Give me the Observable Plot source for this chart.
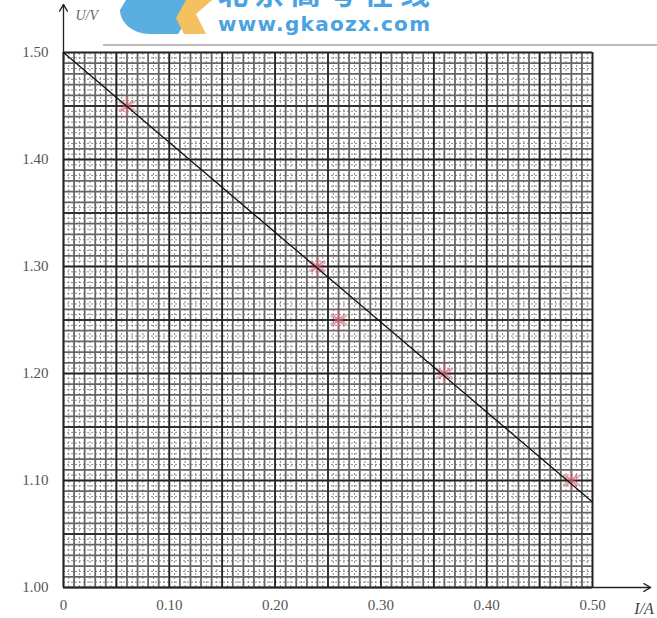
<!DOCTYPE html>
<html><head><meta charset="utf-8">
<script src="https://cdn.jsdelivr.net/npm/d3@7"></script>
<script src="https://cdn.jsdelivr.net/npm/@observablehq/plot@0.6"></script>
<style>body{margin:0;background:#fff;} #c{position:relative;width:657px;height:618px;overflow:hidden;}</style>
</head><body><div id="c"></div>
<script>
const currentA = [0.06, 0.24, 0.26, 0.36, 0.48];
const voltageV = [1.45, 1.30, 1.25, 1.20, 1.10];
const fitI = [0, 0.50];
const fitU = [1.50, 1.08];
const xTicks = [0, 0.10, 0.20, 0.30, 0.40, 0.50];
const xTickLabels = ["0", "0.10", "0.20", "0.30", "0.40", "0.50"];
const yTicks = [1.00, 1.10, 1.20, 1.30, 1.40, 1.50];
const yTickLabels = ["1.00", "1.10", "1.20", "1.30", "1.40", "1.50"];

const pts = currentA.map((x, i) => ({x, y: voltageV[i]}));
const fit = fitI.map((x, i) => ({x, y: fitU[i]}));
const fine = d3.range(0, 101).map(i => i * 0.005);
const minorX = fine.filter((v, i) => i % 2 === 0);
const halfX = fine.filter((v, i) => i % 2 === 1);
const majorX = fine.filter((v, i) => i % 10 === 0);
const fineY = d3.range(0, 101).map(i => 1 + i * 0.005);
const minorY = fineY.filter((v, i) => i % 2 === 0);
const halfY = fineY.filter((v, i) => i % 2 === 1);
const majorY = fineY.filter((v, i) => i % 10 === 0);

const font = "'Liberation Serif', 'DejaVu Serif', serif";
const chart = Plot.plot({
  width: 657, height: 618,
  marginLeft: 63, marginRight: 65, marginTop: 52, marginBottom: 31,
  x: {domain: [0, 0.5], axis: null},
  y: {domain: [1.0, 1.5], axis: null},
  style: {fontFamily: font, fontSize: "15px", color: "#555", background: "#fff"},
  marks: [
    Plot.ruleX(halfX, {y1: 1.0, y2: 1.5, stroke: "#888", strokeWidth: 1, strokeDasharray: "2,2"}),
    Plot.ruleY(halfY, {x1: 0, x2: 0.5, stroke: "#888", strokeWidth: 1, strokeDasharray: "2,2"}),
    Plot.ruleX(minorX, {y1: 1.0, y2: 1.5, stroke: "#666", strokeWidth: 1.8}),
    Plot.ruleY(minorY, {x1: 0, x2: 0.5, stroke: "#666", strokeWidth: 1.8}),
    Plot.ruleX(majorX, {y1: 1.0, y2: 1.5, stroke: "#222", strokeWidth: 1.6}),
    Plot.ruleY(majorY, {x1: 0, x2: 0.5, stroke: "#222", strokeWidth: 1.6}),
    Plot.arrow([{x1: 0, y1: 1.0, x2: 0, y2: 1.545}], {x1: "x1", y1: "y1", x2: "x2", y2: "y2", stroke: "#222", strokeWidth: 1.3, headLength: 9, bend: 0}),
    Plot.arrow([{x1: 0, y1: 1.0, x2: 0.555, y2: 1.0}], {x1: "x1", y1: "y1", x2: "x2", y2: "y2", stroke: "#222", strokeWidth: 1.3, headLength: 9, bend: 0}),
    Plot.dot(pts, {x: "x", y: "y", symbol: "asterisk", r: 9, stroke: "#e07080", strokeWidth: 3, strokeOpacity: 0.5}),
    Plot.dot(pts, {x: "x", y: "y", symbol: "times", r: 5, stroke: "#d05070", strokeWidth: 1.5, strokeOpacity: 0.5}),
    Plot.line(fit, {x: "x", y: "y", stroke: "#111", strokeWidth: 1.3}),
    Plot.text(yTicks, {x: 0, y: d => d, text: (d, i) => yTickLabels[i], dx: -15, textAnchor: "end", fill: "#555", fontSize: 15}),
    Plot.text(xTicks, {x: d => d, y: 1.0, text: (d, i) => xTickLabels[i], dy: 18, textAnchor: "middle", fill: "#555", fontSize: 15}),
    Plot.text(["U/V"], {x: 0, y: 1.5, text: d => d, dx: 12, dy: -37, textAnchor: "start", fontStyle: "italic", fill: "#666", fontSize: 14}),
    Plot.text(["I/A"], {x: 0.558, y: 1.0, text: d => d, dy: 21, textAnchor: "end", fontStyle: "italic", fill: "#444", fontSize: 16})
  ]
});
document.getElementById("c").appendChild(chart);

// watermark overlay
const svg = d3.select(chart);
const wm = svg.append("g").attr("text-anchor", "start");
wm.append("line").attr("x1", 103).attr("x2", 657).attr("y1", 45).attr("y2", 45).attr("stroke", "#bbb").attr("stroke-width", 2);
wm.append("path").attr("d", "M126,0 L200,0 L178,34 L150,34 C132,34 120,22 120,10 Z").attr("fill", "#5aaee0");
wm.append("path").attr("d", "M186,0 L212,0 L196,14 L206,34 L184,34 L176,18 Z").attr("fill", "#f5c060");
wm.append("text").attr("x", 218).attr("y", 4).attr("text-anchor", "start").attr("font-family", "'Noto Sans CJK SC', sans-serif").attr("font-weight", "bold").attr("font-size", 30).attr("textLength", 212).attr("fill", "#4aa3e0").text("北京高考在线");
wm.append("text").attr("x", 218).attr("y", 31).attr("text-anchor", "start").attr("font-family", "'DejaVu Sans', sans-serif").attr("font-weight", "bold").attr("font-size", 20).attr("textLength", 212).attr("fill", "#4aa3e0").text("www.gkaozx.com");
</script></body></html>
